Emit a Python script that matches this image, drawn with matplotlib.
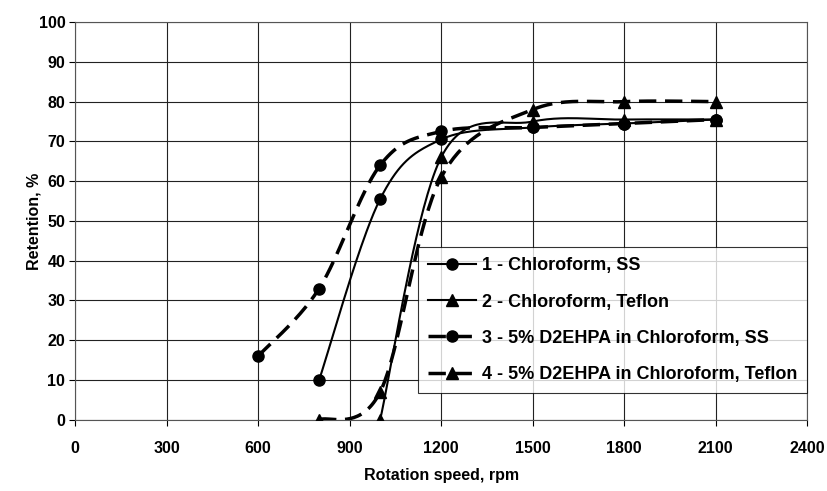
import numpy as np
import matplotlib.pyplot as plt

plt.rcParams['font.family'] = ['Liberation Sans', 'DejaVu Sans']
plt.rcParams['font.weight'] = 'bold'

# data
x1 = [800, 1000, 1200, 1500, 1800, 2100]
y1 = [10, 55.5, 70.5, 73.5, 74.5, 75.5]
x2 = [1000, 1200, 1500, 1800, 2100]
y2 = [0, 66, 75, 75.5, 75.5]
x3 = [600, 800, 1000, 1200, 1500, 1800, 2100]
y3 = [16, 33, 64, 72.5, 73.5, 74.5, 75.5]
x4 = [800, 1000, 1200, 1500, 1800, 2100]
y4 = [0, 7, 61, 78, 80, 80]
labels = ['1 - Chloroform, SS', '2 - Chloroform, Teflon',
          '3 - 5% D2EHPA in Chloroform, SS', '4 - 5% D2EHPA in Chloroform, Teflon']


# smoothed curve like a spreadsheet "smooth line" (bezier through the points)
def smooth(xs, ys, n=40):
    p = np.column_stack([xs, ys]).astype(float)
    out = []
    for i in range(len(p) - 1):
        p0 = p[i - 1] if i > 0 else p[i]
        p3 = p[i + 2] if i + 2 < len(p) else p[i + 1]
        c1 = p[i] + (p[i + 1] - p0) / 6
        c2 = p[i + 1] - (p3 - p[i]) / 6
        t = np.linspace(0, 1, n)[:, None]
        seg = ((1 - t) ** 3 * p[i] + 3 * (1 - t) ** 2 * t * c1
               + 3 * (1 - t) * t ** 2 * c2 + t ** 3 * p[i + 1])
        out.append(seg)
    out = np.vstack(out)
    return out[:, 0], out[:, 1]


fig = plt.figure(figsize=(8.27, 4.91), dpi=100)
ax = fig.add_axes([0.0907, 0.145, 0.8855, 0.81])

dash = (0, (5, 2.5))
series = [(x1, y1, 'o', '-', 1.5), (x2, y2, '^', '-', 1.5),
          (x3, y3, 'o', dash, 2.5), (x4, y4, '^', dash, 2.5)]
handles = []
for (xs, ys, m, ls, lw), lab in zip(series, labels):
    sx, sy = smooth(xs, ys)
    ax.plot(sx, sy, color='black', linestyle=ls, linewidth=lw, zorder=3)
    ax.plot(xs, ys, linestyle='none', marker=m, color='black', markersize=8, zorder=4)
    h, = ax.plot([], [], color='black', linestyle=ls, linewidth=lw, marker=m, markersize=8)
    handles.append(h)

ax.set_xlim(0, 2400)
ax.set_ylim(0, 100)
ax.set_xticks(np.arange(0, 2401, 300))
ax.set_yticks(np.arange(0, 101, 10))
ax.grid(True, color='#222222', linewidth=0.8)
ax.set_axisbelow(True)
for s in ax.spines.values():
    s.set_color('#555555')
    s.set_linewidth(0.8)
ax.tick_params(labelsize=11.5, length=4, direction='out')
ax.tick_params(axis='x', pad=11)
ax.tick_params(axis='y', pad=3)
ax.set_xlabel('Rotation speed, rpm', fontsize=11.5, fontweight='bold', labelpad=9)
ax.set_ylabel('Retention, %', fontsize=11.5, fontweight='bold', labelpad=-2)

leg = ax.legend(handles, labels, loc='lower right', bbox_to_anchor=(1.0, 0.068),
                borderaxespad=0, frameon=True, fancybox=False, edgecolor='black',
                handlelength=2.65, handletextpad=0.35, labelspacing=1.06, borderpad=0.55,
                prop={'weight': 'bold', 'size': 13})
leg.get_frame().set_linewidth(0.8)
leg.set_zorder(5)

fig.savefig('out.png')
